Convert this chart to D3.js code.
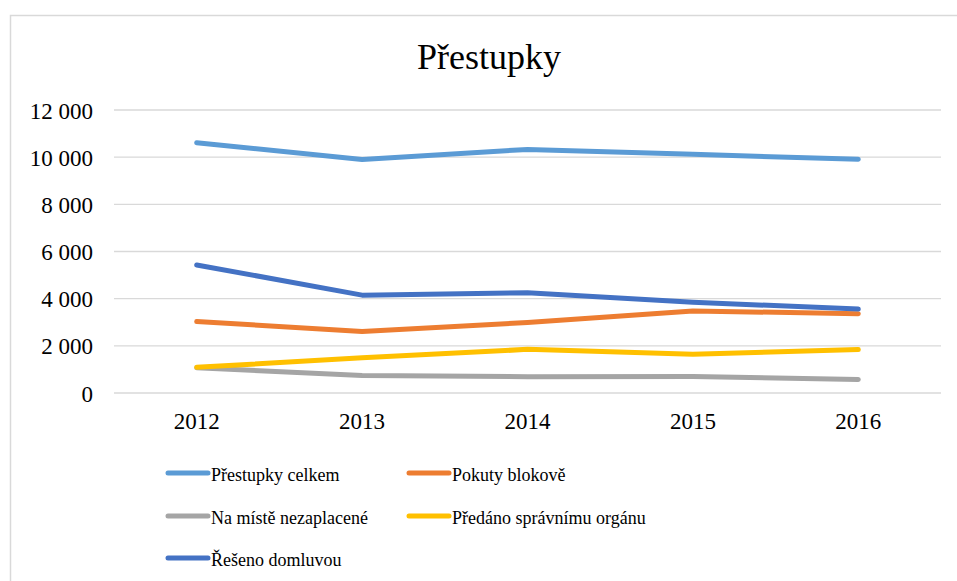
<!DOCTYPE html>
<html>
<head>
<meta charset="utf-8">
<script src="https://cdn.jsdelivr.net/npm/d3@7"></script>
<style>
  body { margin: 0; background: #fff; }
  svg text { font-family: "Liberation Serif", "Times New Roman", serif; fill: #000; }
</style>
</head>
<body>
<svg id="chart" width="957" height="581"></svg>
<script>
// Data
const years = ["2012", "2013", "2014", "2015", "2016"];
const seriesNames = ["Přestupky celkem", "Pokuty blokově", "Na místě nezaplacené", "Předáno správnímu orgánu", "Řešeno domluvou"];
const celkem = [10610, 9900, 10330, 10120, 9910];
const blokove = [3030, 2610, 2990, 3480, 3360];
const nezaplacene = [1070, 740, 690, 700, 570];
const predano = [1090, 1490, 1850, 1640, 1840];
const domluvou = [5430, 4150, 4250, 3850, 3560];
const yTicks = [0, 2000, 4000, 6000, 8000, 10000, 12000];
const colors = ["#5B9BD5", "#ED7D31", "#A5A5A5", "#FFC000", "#4472C4"];

const allValues = [celkem, blokove, nezaplacene, predano, domluvou];

const svg = d3.select("#chart");
const margin = {left: 114, right: 16, top: 110, bottom: 188};
const width = 957, height = 581;

// Rámeček grafu
svg.append("rect")
    .attr("x", 10.5).attr("y", 15.5)
    .attr("width", 960).attr("height", 600)
    .attr("fill", "none")
    .attr("stroke", "#d9d9d9")
    .attr("stroke-width", 1.5);

// Titulek
svg.append("text")
    .attr("x", 489).attr("y", 69)
    .attr("text-anchor", "middle")
    .style("font-size", "36px")
    .text("Přestupky");

// Škály
const x = d3.scaleBand()
    .domain(years)
    .range([margin.left, width - margin.right])
    .padding(0);

const y = d3.scaleLinear()
    .domain([0, 12000])
    .range([height - margin.bottom, margin.top]);

const fmt = v => d3.format(",")(v).replace(/,/g, " ");

// Mřížka
svg.append("g")
    .selectAll("line")
    .data(yTicks)
    .join("line")
    .attr("x1", margin.left).attr("x2", width - margin.right)
    .attr("y1", d => y(d)).attr("y2", d => y(d))
    .attr("stroke", "#d9d9d9")
    .attr("stroke-width", 1.3);

// Osa Y
const yAxis = svg.append("g")
    .attr("transform", `translate(${margin.left - 21},0)`)
    .call(d3.axisLeft(y).tickValues(yTicks).tickFormat(fmt).tickSize(0).tickPadding(0));
yAxis.attr("font-family", null);
yAxis.select(".domain").remove();
yAxis.selectAll("text")
    .style("font-family", "'Liberation Serif', serif")
    .style("font-size", "23px")
    .attr("dy", "0.35em");

// Osa X
const xAxis = svg.append("g")
    .attr("transform", `translate(0,${y(0)})`)
    .call(d3.axisBottom(x).tickSize(0).tickPadding(20));
xAxis.attr("font-family", null);
xAxis.select(".domain").remove();
xAxis.selectAll("text")
    .style("font-family", "'Liberation Serif', serif")
    .style("font-size", "23px");

// Linie
const line = d3.line()
    .x((d, i) => x(years[i]) + x.bandwidth() / 2)
    .y(d => y(d));

allValues.forEach((vals, i) => {
    svg.append("path")
        .datum(vals)
        .attr("d", line)
        .attr("fill", "none")
        .attr("stroke", colors[i])
        .attr("stroke-width", 5)
        .attr("stroke-linecap", "round")
        .attr("stroke-linejoin", "round");
});

// Legenda
const legendPos = [[168, 473], [409, 473], [168, 516], [409, 516], [168, 558]];
seriesNames.forEach((name, i) => {
    const [lx, ly] = legendPos[i];
    const g = svg.append("g").attr("transform", `translate(${lx},${ly})`);
    g.append("line")
        .attr("x1", 0).attr("x2", 40)
        .attr("y1", 0).attr("y2", 0)
        .attr("stroke", colors[i])
        .attr("stroke-width", 5)
        .attr("stroke-linecap", "round");
    g.append("text")
        .attr("x", 43).attr("y", 7.5)
        .style("font-size", "18px")
        .text(name);
});
</script>
</body>
</html>
